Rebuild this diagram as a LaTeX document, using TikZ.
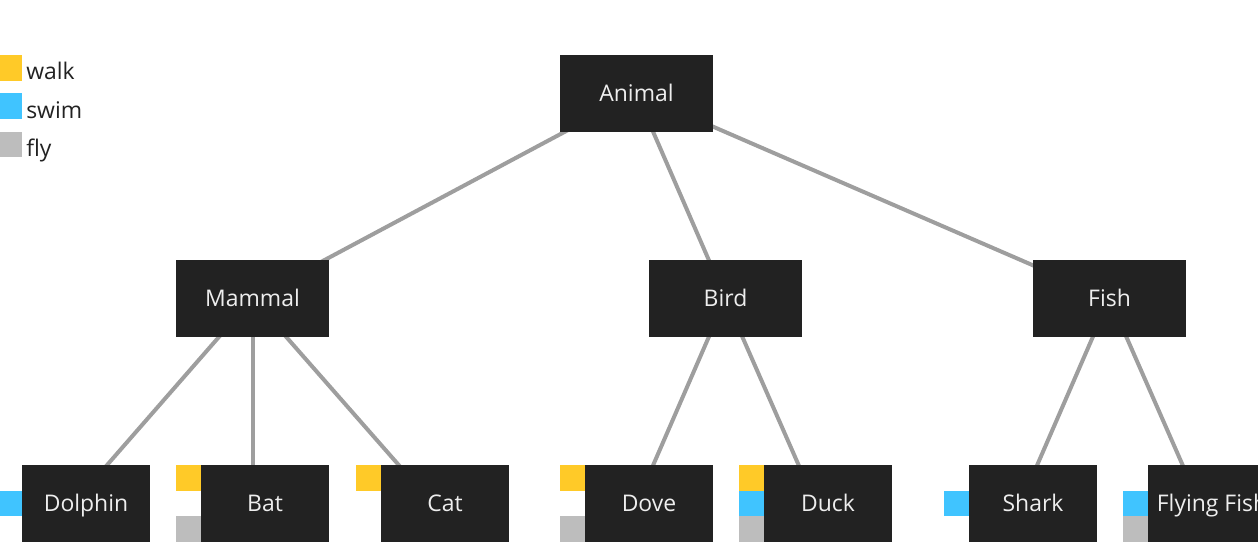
\documentclass[tikz,border=0pt]{standalone}
\usepackage{fontspec}
\setmainfont{Open Sans}
\usetikzlibrary{positioning,backgrounds}
\usepackage{xcolor}
\definecolor{BoxDark}{HTML}{222222}
\definecolor{BoxText}{HTML}{EEEEEE}
\definecolor{EdgeGray}{HTML}{9E9E9E}
\definecolor{WalkYellow}{HTML}{FFCA28}
\definecolor{SwimBlue}{HTML}{40C4FF}
\definecolor{FlyGray}{HTML}{BDBDBD}

\begin{document}
\begin{tikzpicture}[
x=0.75pt,y=-0.75pt,
box/.style={
rectangle,
fill=BoxDark,
text=BoxText,
minimum width=114.75pt,
minimum height=57.75pt,
inner sep=0pt,
text height=12.2pt,
text depth=0pt,
font=\fontsize{17.2}{20}\selectfont
},
leaf/.style={
box,
minimum width=96pt
},
slot/.style={
rectangle,
minimum width=114.75pt,
minimum height=57.75pt,
inner sep=0pt
},
square/.style={
rectangle,
minimum width=18.75pt,
minimum height=19.25pt,
inner sep=0pt
},
walksq/.style={square,fill=WalkYellow},
swimsq/.style={square,fill=SwimBlue},
flysq/.style={square,fill=FlyGray},
keytext/.style={
inner sep=0pt,
anchor=base west,
text=BoxDark,
font=\fontsize{17.2}{20}\selectfont
},
edge/.style={
line width=3pt,
draw=EdgeGray
}
]

\useasboundingbox (0,0) rectangle (1258,555);

% legend
\node[walksq,minimum height=19.5pt] (walkkey) at (9.5,68) {};
\node[swimsq,minimum height=19.5pt] (swimkey) at (9.5,106) {};
\node[flysq,minimum height=19pt] (flykey) at (9.5,144.5) {};
\node[keytext] (walklabel) at (26,79.5) {walk};
\node[keytext] (swimlabel) at (26,119) {swim};
\node[keytext] (flylabel) at (26,157) {fly};

% classes
\node[box] (animal) at (636.5,93.5) {Animal};
\node[box] (mammal) at (252.5,298.5) {Mammal};
\node[box] (bird) at (725.5,298.5) {Bird};
\node[box] (fish) at (1109.5,298.5) {Fish};

\node[slot] (dolphin) at (73.5,503.5) {};
\node[slot] (bat) at (252.5,503.5) {};
\node[slot] (cat) at (432.5,503.5) {};
\node[slot] (dove) at (636.5,503.5) {};
\node[slot] (duck) at (815.5,503.5) {};
\node[slot] (shark) at (1020.5,503.5) {};
\node[slot] (flyingfish) at (1199.5,503.5) {};

\node[leaf,anchor=east] (dolphinbox) at (dolphin.east) {Dolphin};
\node[leaf,anchor=east] (batbox) at (bat.east) {Bat};
\node[leaf,anchor=east] (catbox) at (cat.east) {Cat};
\node[leaf,anchor=east] (dovebox) at (dove.east) {Dove};
\node[leaf,anchor=east] (duckbox) at (duck.east) {Duck};
\node[leaf,anchor=east] (sharkbox) at (shark.east) {Shark};
\node[leaf,anchor=east] (flyingfishbox) at (flyingfish.east) {Flying Fish};

% behaviors
\node[swimsq,anchor=west] at (dolphin.west) {};
\node[walksq,anchor=north west] at (bat.north west) {};
\node[flysq,anchor=south west] at (bat.south west) {};
\node[walksq,anchor=north west] at (cat.north west) {};
\node[walksq,anchor=north west] at (dove.north west) {};
\node[flysq,anchor=south west] at (dove.south west) {};
\node[walksq,anchor=north west] at (duck.north west) {};
\node[swimsq,anchor=west] at (duck.west) {};
\node[flysq,anchor=south west] at (duck.south west) {};
\node[swimsq,anchor=west] at (shark.west) {};
\node[swimsq,anchor=west] at (flyingfish.west) {};
\node[flysq,anchor=south west] at (flyingfish.south west) {};

\begin{scope}[on background layer]
\draw[edge] (animal.center)--(mammal.center);
\draw[edge] (animal.center)--(bird.center);
\draw[edge] (animal.center)--(fish.center);
\draw[edge] (mammal.center)--(dolphin.center);
\draw[edge] (mammal.center)--(bat.center);
\draw[edge] (mammal.center)--(cat.center);
\draw[edge] (bird.center)--(dove.center);
\draw[edge] (bird.center)--(duck.center);
\draw[edge] (fish.center)--(shark.center);
\draw[edge] (fish.center)--(flyingfish.center);
\end{scope}

\end{tikzpicture}
\end{document}
